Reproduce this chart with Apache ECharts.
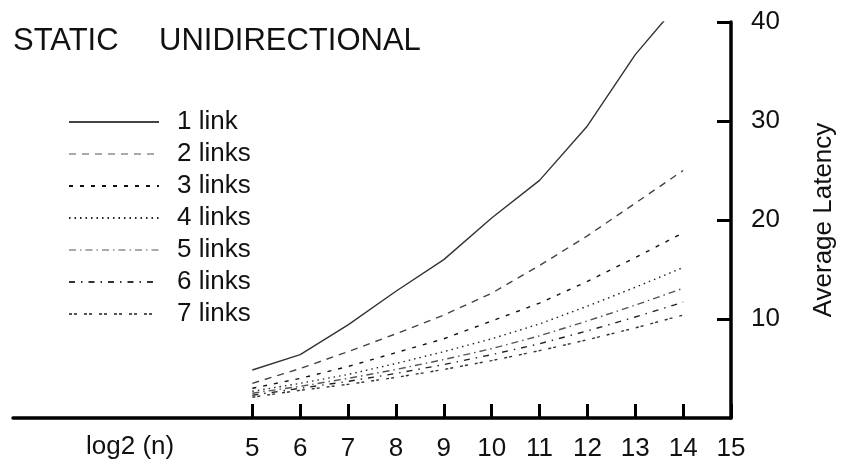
<!DOCTYPE html>
<html lang="en">
<head>
    <meta charset="UTF-8">
    <title>Static unidirectional latency</title>
    <style>
        html, body { margin: 0; padding: 0; background: #fff; }
        #main { width: 845px; height: 467px; }
    </style>
    <script src="https://cdn.jsdelivr.net/npm/echarts@6/dist/echarts.min.js"></script>
</head>
<body>
    <div id="main"></div>
    <script type="text/javascript">
        // x = log2(n)
        var xValues = [5, 6, 7, 8, 9, 10, 11, 12, 13, 14];
        var xTicks = [5, 6, 7, 8, 9, 10, 11, 12, 13, 14, 15];
        var yTicks = [10, 20, 30, 40];

        var seriesNames = ['1 link', '2 links', '3 links', '4 links', '5 links', '6 links', '7 links'];
        var link1 = [4.85, 6.4, 9.4, 12.8, 16.0, 20.2, 24.0, 29.5, 36.7, 42.4];
        var link2 = [3.5, 5.0, 6.7, 8.5, 10.4, 12.6, 15.4, 18.4, 21.7, 25.0];
        var link3 = [3.0, 4.0, 5.2, 6.6, 8.0, 9.8, 11.6, 13.8, 16.2, 18.7];
        var link4 = [2.7, 3.5, 4.4, 5.5, 6.7, 8.0, 9.5, 11.3, 13.2, 15.2];
        var link5 = [2.5, 3.2, 4.0, 4.9, 5.9, 7.0, 8.3, 9.8, 11.4, 13.1];
        var link6 = [2.3, 3.0, 3.7, 4.5, 5.4, 6.4, 7.5, 8.8, 10.2, 11.7];
        var link7 = [2.1, 2.8, 3.4, 4.1, 4.9, 5.8, 6.8, 7.9, 9.1, 10.4];

        var allValues = [link1, link2, link3, link4, link5, link6, link7];
        // line look for each series: colour, dash pattern
        var lineColors = ['#333', '#444', '#111', '#222', '#555', '#222', '#333'];
        var legendColors = ['#444', '#aaa', '#111', '#222', '#aaa', '#333', '#555'];
        var dashes = ['solid', [7, 6], [4, 7], [1.5, 4], [7, 4, 1.5, 4], [6, 6, 1.5, 6], [3, 2, 3, 7]];

        var font = 'Liberation Sans, Arial, sans-serif';

        function pairs(vals) {
            var out = [];
            for (var i = 0; i < xValues.length; i++) {
                out.push([xValues[i], vals[i]]);
            }
            return out;
        }

        var series = [];
        var legendData = [];
        for (var s = 0; s < seriesNames.length; s++) {
            series.push({
                name: seriesNames[s],
                type: 'line',
                symbol: 'none',
                clip: true,
                data: pairs(allValues[s]),
                lineStyle: { color: lineColors[s], width: 1.4, type: dashes[s] },
                itemStyle: { color: lineColors[s] }
            });
            legendData.push({ name: seriesNames[s], lineStyle: { color: legendColors[s], width: 2 } });
        }

        var chart = echarts.init(document.getElementById('main'));

        var option = {
            animation: false,
            backgroundColor: '#fff',
            title: [{
                text: 'STATIC',
                left: 13,
                top: 26,
                padding: 0,
                textStyle: { fontFamily: font, fontSize: 31, fontWeight: 'normal', color: '#111' }
            }, {
                text: 'UNIDIRECTIONAL',
                left: 159,
                top: 26,
                padding: 0,
                textStyle: { fontFamily: font, fontSize: 31, fontWeight: 'normal', color: '#111' }
            }],
            legend: {
                orient: 'vertical',
                left: 68,
                top: 106,
                padding: 0,
                itemWidth: 90,
                itemHeight: 16,
                itemGap: 0,
                selectedMode: false,
                data: legendData,
                itemStyle: { opacity: 0 },
                lineStyle: { width: 2 },
                textStyle: {
                    fontFamily: font,
                    fontSize: 26,
                    color: '#111',
                    lineHeight: 32,
                    padding: [0, 0, 0, 13]
                }
            },
            grid: { left: 13, right: 108, top: 22, bottom: 49, containLabel: false },
            xAxis: {
                type: 'value',
                min: 0,
                max: 15,
                splitLine: { show: false },
                axisLine: { onZero: false, lineStyle: { color: '#000', width: 3.5 } },
                axisTick: { inside: true, length: 14, customValues: xTicks, lineStyle: { color: '#000', width: 3 } },
                axisLabel: { customValues: xTicks, margin: 18, fontFamily: font, fontSize: 26, color: '#111' }
            },
            yAxis: {
                type: 'value',
                position: 'right',
                min: 0,
                max: 40,
                interval: 10,
                splitLine: { show: false },
                axisLine: { show: true, onZero: false, lineStyle: { color: '#000', width: 3.5 } },
                axisTick: { show: true, inside: true, length: 14, customValues: yTicks, lineStyle: { color: '#000', width: 3 } },
                axisLabel: { customValues: yTicks, margin: 20, fontFamily: font, fontSize: 26, color: '#111' },
                name: 'Average Latency',
                nameLocation: 'middle',
                nameRotate: 90,
                nameGap: 80,
                nameTextStyle: { fontFamily: font, fontSize: 26, color: '#111' }
            },
            graphic: [{
                type: 'text',
                left: 86,
                top: 434,
                style: { text: 'log2 (n)', font: '26px ' + font, fill: '#111' }
            }],
            series: series
        };

        chart.setOption(option);
    </script>
</body>
</html>
